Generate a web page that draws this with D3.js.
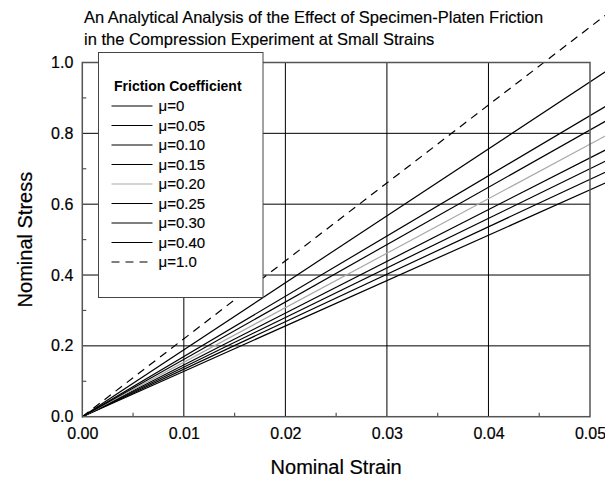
<!DOCTYPE html>
<html lang="en">
<head>
<meta charset="UTF-8">
<title>Specimen-Platen Friction</title>
<script src="https://d3js.org/d3.v7.min.js"></script>
<style>
    body { margin: 0; background: #fff; }
    svg { display: block; font-family: "Liberation Sans", Arial, sans-serif; }
</style>
</head>
<body>
<svg></svg>
<script>
    // data
    const strain = [0, 0.052];                 // lines are straight from the origin
    const mu = ["0", "0.05", "0.10", "0.15", "0.20", "0.25", "0.30", "0.40", "1.0"];
    const stressAtEnd = [0.666, 0.697, 0.728, 0.760, 0.800, 0.842, 0.884, 0.983, 1.144];
    const xTicks = [0, 0.01, 0.02, 0.03, 0.04, 0.05];
    const yTicks = [0, 0.2, 0.4, 0.6, 0.8, 1.0];
    const titleLines = ["An Analytical Analysis of the Effect of Specimen-Platen Friction",
                        "in the Compression Experiment at Small Strains"];

    const width = 605, height = 480;
    const svg = d3.select("svg").attr("width", width).attr("height", height);

    const x = d3.scaleLinear().domain([0, 0.05]).range([82.3, 590]);
    const y = d3.scaleLinear().domain([0, 1]).range([416.7, 62.5]);

    const colorOf = m => m === "0.20" ? "#a8a8a8" : "#000";
    const dashOf = m => m === "1.0" ? "8,6" : null;

    // gridlines
    svg.append("g")
        .selectAll("line")
        .data(xTicks.slice(1, -1))
        .join("line")
        .attr("x1", d => x(d)).attr("x2", d => x(d))
        .attr("y1", y(0)).attr("y2", y(1))
        .attr("stroke", "#000").attr("stroke-width", 1);
    svg.append("g")
        .selectAll("line")
        .data(yTicks.slice(1, -1))
        .join("line")
        .attr("x1", x(0)).attr("x2", x(0.05))
        .attr("y1", d => y(d)).attr("y2", d => y(d))
        .attr("stroke", "#000").attr("stroke-width", 1);

    // data lines
    const line = d3.line().x(d => x(d[0])).y(d => y(d[1]));
    const series = mu.map((m, i) => ({ m, pts: strain.map((s, j) => [s, j === 0 ? 0 : stressAtEnd[i]]) }));
    svg.append("g")
        .selectAll("path")
        .data(series)
        .join("path")
        .attr("d", d => line(d.pts))
        .attr("fill", "none")
        .attr("stroke", d => colorOf(d.m))
        .attr("stroke-width", 1.2)
        .attr("stroke-dasharray", d => dashOf(d.m));

    // frame
    svg.append("rect")
        .attr("x", x(0)).attr("y", y(1))
        .attr("width", x(0.05) - x(0)).attr("height", y(0) - y(1))
        .attr("fill", "none").attr("stroke", "#555").attr("stroke-width", 1.5);

    // axes: labels only, minor ticks pointing inward
    const xAxis = d3.axisBottom(x).tickValues(xTicks).tickFormat(d3.format(".2f")).tickSize(0).tickPadding(11);
    const gx = svg.append("g").attr("transform", `translate(0,${y(0)})`).call(xAxis);
    const yAxis = d3.axisLeft(y).tickValues(yTicks).tickFormat(d3.format(".1f")).tickSize(0).tickPadding(9);
    const gy = svg.append("g").attr("transform", `translate(${x(0)},0)`).call(yAxis);
    [gx, gy].forEach(g => {
        g.select(".domain").remove();
        g.selectAll("text").attr("font-size", 16).attr("fill", "#000")
            .attr("stroke", "#000").attr("stroke-width", 0.2)
            .attr("font-family", "'Liberation Sans', Arial, sans-serif");
    });

    const xMinor = [0.005, 0.015, 0.025, 0.035, 0.045];
    const yMinor = [0.1, 0.3, 0.5, 0.7, 0.9];
    svg.append("g").selectAll("line").data(xMinor).join("line")
        .attr("x1", d => x(d)).attr("x2", d => x(d))
        .attr("y1", y(0)).attr("y2", y(0) - 4)
        .attr("stroke", "#555").attr("stroke-width", 1.2);
    svg.append("g").selectAll("line").data(yMinor).join("line")
        .attr("x1", x(0)).attr("x2", x(0) + 4)
        .attr("y1", d => y(d)).attr("y2", d => y(d))
        .attr("stroke", "#555").attr("stroke-width", 1.2);

    // legend
    const lg = svg.append("g").attr("transform", "translate(98.5,52.5)");
    lg.append("rect")
        .attr("width", 164.5).attr("height", 245)
        .attr("fill", "#fff").attr("stroke", "#444").attr("stroke-width", 1);
    lg.append("text")
        .attr("x", 15.5).attr("y", 38.5)
        .attr("font-size", 14).attr("font-weight", "bold")
        .text("Friction Coefficient");
    const rows = lg.selectAll("g.row")
        .data(mu)
        .join("g")
        .attr("class", "row")
        .attr("transform", (d, i) => `translate(0,${53.5 + i * 19.5})`);
    rows.append("line")
        .attr("x1", 13).attr("x2", 54)
        .attr("stroke", d => colorOf(d))
        .attr("stroke-width", 1.2)
        .attr("stroke-dasharray", d => dashOf(d));
    rows.append("text")
        .attr("x", 60).attr("dy", "0.36em")
        .attr("font-size", 15)
        .attr("stroke", "#000").attr("stroke-width", 0.15)
        .text(d => `\u03bc=${d}`);

    // titles
    svg.append("g").selectAll("text").data(titleLines).join("text")
        .attr("x", 84).attr("y", (d, i) => 23 + i * 22)
        .attr("font-size", 16.5)
        .attr("stroke", "#000").attr("stroke-width", 0.15)
        .text(d => d);

    svg.append("text")
        .attr("x", (x(0) + x(0.05)) / 2).attr("y", 474)
        .attr("text-anchor", "middle").attr("font-size", 20)
        .attr("stroke", "#000").attr("stroke-width", 0.2)
        .text("Nominal Strain");
    svg.append("text")
        .attr("transform", `translate(32,${(y(0) + y(1)) / 2}) rotate(-90)`)
        .attr("text-anchor", "middle").attr("font-size", 20)
        .attr("stroke", "#000").attr("stroke-width", 0.2)
        .text("Nominal Stress");
</script>
</body>
</html>
